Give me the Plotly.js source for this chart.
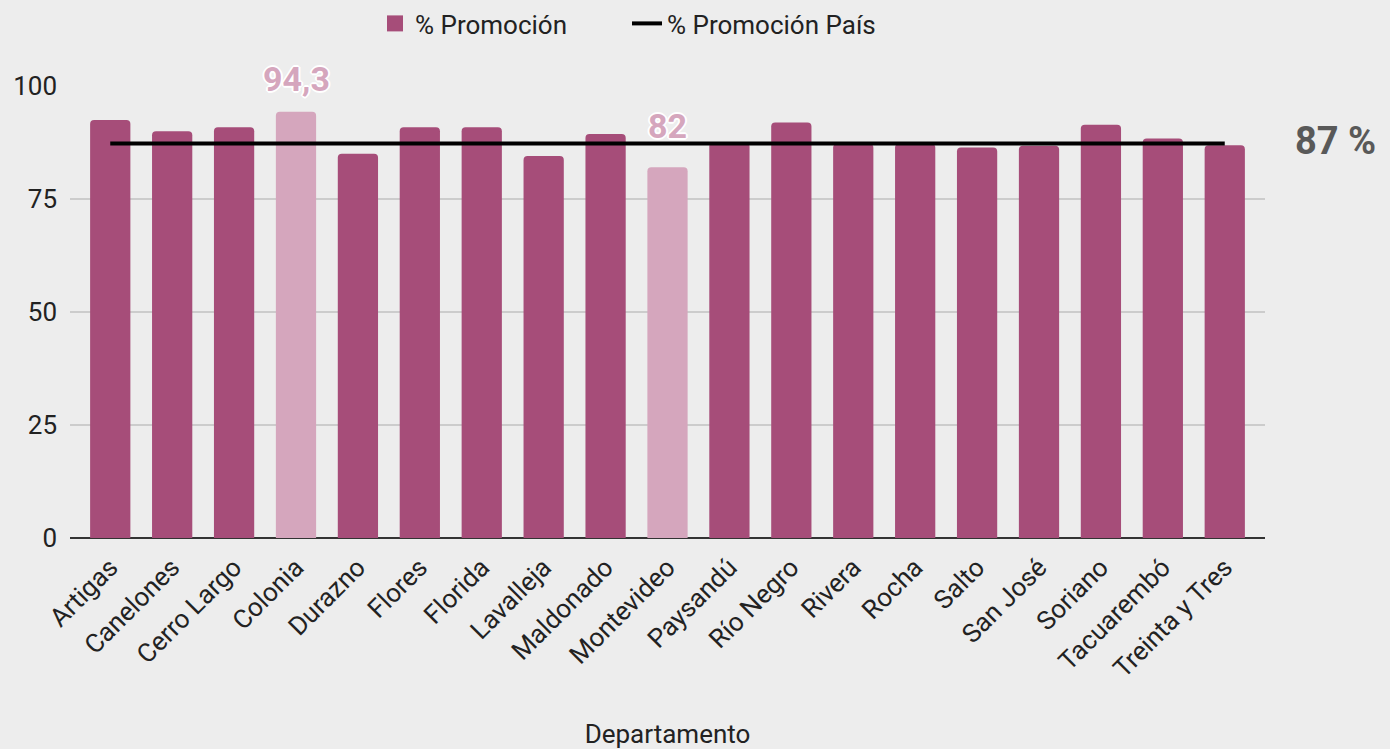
<!DOCTYPE html>
<html>
<head>
<meta charset="utf-8">
<script src="https://cdn.plot.ly/plotly-3.0.1.min.js"></script>
<style>
html,body{margin:0;padding:0;background:#ededed;}
#chart{width:1390px;height:749px;}
</style>
</head>
<body>
<div id="chart"></div>
<script>
const departamentos = ["Artigas","Canelones","Cerro Largo","Colonia","Durazno","Flores","Florida","Lavalleja","Maldonado","Montevideo","Paysandú","Río Negro","Rivera","Rocha","Salto","San José","Soriano","Tacuarembó","Treinta y Tres"];
const promocion = [92.5, 90.0, 90.9, 94.3, 85.0, 90.9, 90.9, 84.5, 89.4, 82.0, 87.5, 91.9, 87.2, 87.2, 86.4, 86.8, 91.4, 88.4, 86.9];
const promocionPais = 87.3;
const destacados = ["Colonia", "Montevideo"];
const etiquetas = {"Colonia": "94,3", "Montevideo": "82"};
const etiquetaPais = "87 %";

const colorBase = "#a64d79";
const colorDestacado = "#d5a6bd";
const labelShift = {"Colonia": 11, "Montevideo": 19};

const barColors = departamentos.map(d => destacados.includes(d) ? colorDestacado : colorBase);

const traces = [
  {
    type: "bar",
    name: "% Promoción",
    x: departamentos,
    y: promocion,
    marker: {color: barColors, line: {width: 0}, cornerradius: 4},
    showlegend: false,
    hoverinfo: "x+y"
  },
  {
    type: "scatter",
    mode: "markers",
    name: "% Promoción",
    x: [null], y: [null],
    marker: {symbol: "square", size: 26, color: colorBase},
    legendrank: 1
  },
  {
    type: "scatter",
    mode: "lines",
    name: "% Promoción País",
    x: departamentos,
    y: departamentos.map(() => promocionPais),
    line: {color: "#000000", width: 4},
    legendrank: 2
  }
];

const shadow = "2px 0 0 #fff, -2px 0 0 #fff, 0 2px 0 #fff, 0 -2px 0 #fff, 1px 1px 0 #fff, -1px -1px 0 #fff, 1px -1px 0 #fff, -1px 1px 0 #fff";

const annotations = departamentos
  .map((d, i) => ({d, i}))
  .filter(o => etiquetas[o.d])
  .map(o => ({
    x: o.d, y: promocion[o.i], xref: "x", yref: "y",
    text: "<b>" + etiquetas[o.d] + "</b>",
    showarrow: false, yanchor: "bottom", yshift: labelShift[o.d],
    font: {family: "Roboto", size: 34, color: colorDestacado, shadow: shadow}
  }));

annotations.push({
  x: 1.0586, y: promocionPais, xref: "paper", yref: "y",
  text: "<b>" + etiquetaPais + "</b>",
  showarrow: false, xanchor: "center", yanchor: "middle", yshift: 2,
  font: {family: "Roboto", size: 38, color: "#595959"}
});

const layout = {
  width: 1390, height: 749,
  paper_bgcolor: "#ededed",
  plot_bgcolor: "rgba(0,0,0,0)",
  margin: {l: 70, r: 125, t: 86, b: 211},
  bargap: 0.35,
  font: {family: "Roboto", color: "#222222"},
  showlegend: true,
  legend: {
    orientation: "h", xref: "container", yref: "container",
    x: 375 / 1390, xanchor: "left", y: 1.0, yanchor: "top",
    font: {family: "Roboto", size: 26, color: "#222222"},
    bgcolor: "rgba(0,0,0,0)", itemwidth: 30, entrywidth: 207, tracegroupgap: 0
  },
  xaxis: {
    type: "category",
    range: [-0.65, 18.65],
    tickangle: -45,
    tickfont: {family: "Roboto", size: 26, color: "#222222"},
    ticklabelstandoff: 8,
    showgrid: false,
    showline: false,
    ticks: "",
    zeroline: false,
    title: {text: "Departamento", font: {family: "Roboto", size: 26, color: "#222222"}, standoff: 42},
    automargin: false
  },
  yaxis: {
    range: [0, 100],
    tickvals: [0, 25, 50, 75, 100],
    tickfont: {family: "Roboto", size: 26, color: "#222222"},
    gridcolor: "#cccccc",
    gridwidth: 2,
    zeroline: true,
    zerolinecolor: "#333333",
    zerolinewidth: 2,
    showline: false,
    ticks: "",
    ticklabelstandoff: 12,
    automargin: false
  },
  annotations: annotations
};

Plotly.newPlot("chart", traces, layout, {displayModeBar: false, staticPlot: true});
</script>
</body>
</html>
